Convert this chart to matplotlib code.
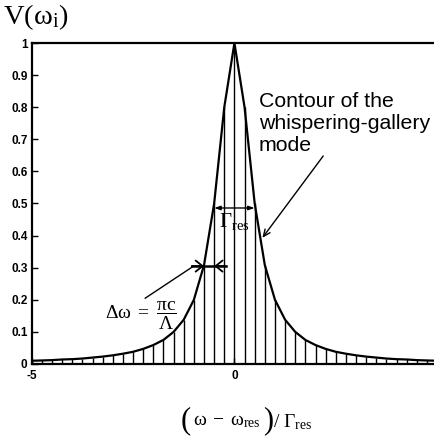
import matplotlib.pyplot as plt
import numpy as np

plt.rcParams['axes.unicode_minus'] = False
plt.rcParams['mathtext.fontset'] = 'custom'
plt.rcParams['mathtext.rm'] = 'Liberation Serif'
plt.rcParams['mathtext.it'] = 'Liberation Serif:italic'
plt.rcParams['font.family'] = ['Liberation Sans', 'DejaVu Sans']

# normalized detuning of the sampled modes (mode spacing 0.25 Gamma_res)
detuning = np.linspace(-5, 5, 41)
half = [0.010, 0.011, 0.012, 0.014, 0.015, 0.017, 0.020, 0.023, 0.027, 0.032,
        0.038, 0.047, 0.059, 0.075, 0.100, 0.138, 0.200, 0.308, 0.500, 0.800]
visibility = np.array(half + [1.0] + half[::-1])

y_ticks = [0, 0.1, 0.2, 0.3, 0.4, 0.5, 0.6, 0.7, 0.8, 0.9, 1]
y_labels = ['0', '0.1', '0.2', '0.3', '0.4', '0.5', '0.6', '0.7', '0.8', '0.9', '1']
x_ticks = [-5, 0]
x_labels = ['-5', '0']

fig = plt.figure(figsize=(4.35, 4.42), dpi=100)
ax = fig.add_axes([0.0729, 0.1765, 0.932, 0.7262])

ax.vlines(detuning, 0, visibility, colors='black', lw=1.0)
ax.plot(detuning, visibility, color='black', lw=1.6)

ax.set_xlim(-5, 5)
ax.set_ylim(0, 1)
ax.set_xticks(x_ticks)
ax.set_xticklabels(x_labels)
ax.set_yticks(y_ticks)
ax.set_yticklabels(y_labels)
ax.tick_params(axis='both', direction='in', length=4, width=1, labelsize=8.5)
ax.tick_params(axis='y', pad=3)
ax.tick_params(axis='x', pad=4)
for lab in ax.get_xticklabels() + ax.get_yticklabels():
    lab.set_fontweight('bold')
for side in ['left', 'top', 'bottom']:
    ax.spines[side].set_linewidth(1.6)
ax.spines['right'].set_visible(False)

# full width at half maximum
ax.annotate('', xy=(-0.5, 0.486), xytext=(0.5, 0.486),
            arrowprops=dict(arrowstyle='<|-|>,head_length=0.35,head_width=0.12',
                            color='black', lw=1, shrinkA=0, shrinkB=0))
ax.text(0.0, 0.445, r'$\Gamma_{\mathrm{res}}$', fontsize=15,
        ha='center', va='center')

# spacing between neighbouring modes
ax.plot([-1.05, -0.22], [0.305, 0.305], color='black', lw=1.8)
ax.annotate('', xy=(-0.75, 0.305), xytext=(-1.05, 0.305),
            arrowprops=dict(arrowstyle='->,head_length=0.5,head_width=0.4',
                            color='black', lw=1.3, shrinkA=0, shrinkB=0))
ax.annotate('', xy=(-0.5, 0.305), xytext=(-0.22, 0.305),
            arrowprops=dict(arrowstyle='->,head_length=0.5,head_width=0.4',
                            color='black', lw=1.3, shrinkA=0, shrinkB=0))
ax.plot([-2.2, -1.03], [0.205, 0.303], color='black', lw=1)
ax.text(-2.3, 0.15, r'$\Delta\mathrm{\omega}\ =\ \dfrac{\mathrm{\pi c}}{\Lambda}$',
        fontsize=14, ha='center', va='center')

# contour label
ax.text(0.6, 0.848, 'Contour of the\nwhispering-gallery\nmode', fontsize=15.3,
        ha='left', va='top', linespacing=1.22)
ax.annotate('', xy=(0.69, 0.393), xytext=(2.19, 0.648),
            arrowprops=dict(arrowstyle='->,head_length=0.5,head_width=0.22',
                            color='black', lw=1, shrinkA=0, shrinkB=0))

fig.text(0.008, 0.962, r'$\mathrm{V(\omega_{i})}$', fontsize=20.5, ha='left', va='center')

# x axis label, built from pieces so the brackets can be taller
serif = 'Liberation Serif'
fig.text(186 / 435, 1 - 421 / 442, '(', family=serif, fontsize=22,
         ha='center', va='center')
fig.text(227 / 435, 1 - 422 / 442, r'$\mathrm{\omega}\;-\;\mathrm{\omega}_{\mathrm{res}}$',
         fontsize=14, ha='center', va='center')
fig.text(268 / 435, 1 - 421 / 442, ')', family=serif, fontsize=22,
         ha='center', va='center')
fig.text(293 / 435, 1 - 422 / 442, r'$/\ \Gamma_{\mathrm{res}}$',
         fontsize=14, ha='center', va='center')

fig.savefig('out.png', dpi=100)
